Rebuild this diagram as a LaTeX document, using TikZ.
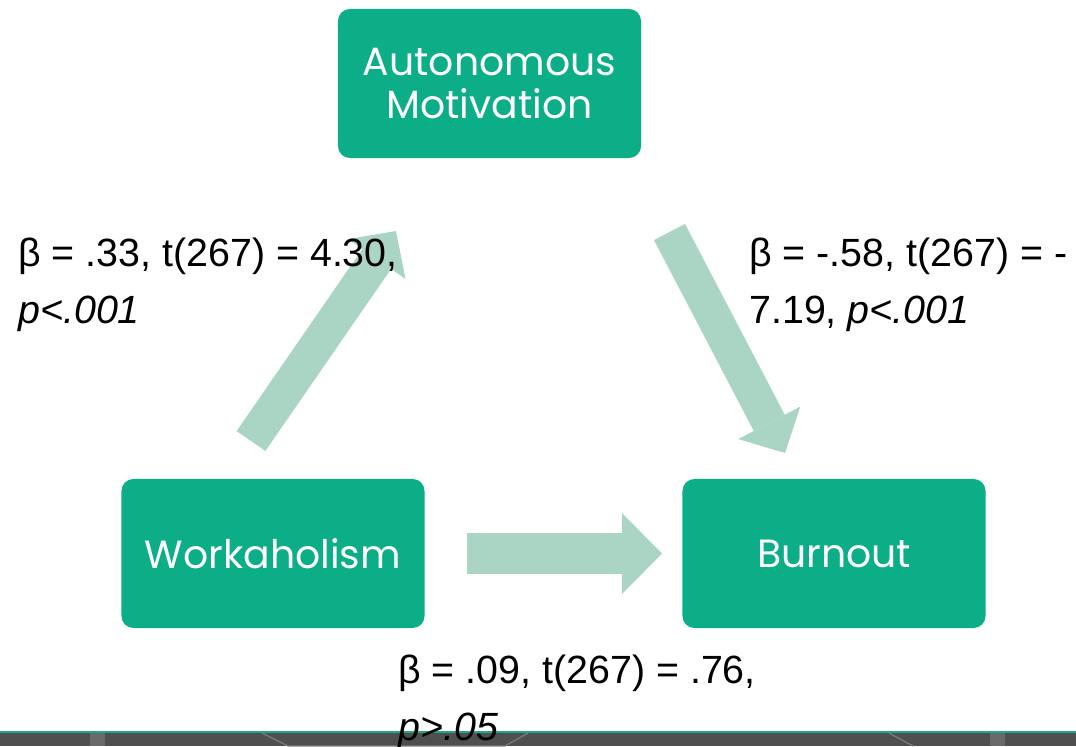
\documentclass[tikz,border=0pt]{standalone}
\usepackage{fontspec}
\setmainfont{Liberation Sans}
\newfontfamily\boxfont{Poppins}
\usetikzlibrary{arrows.meta}

\definecolor{boxgreen}{RGB}{11,174,135}
\definecolor{arrowgreen}{RGB}{170,212,195}
\definecolor{bargrey}{RGB}{79,79,79}
\definecolor{barline}{RGB}{26,170,136}

\begin{document}
\begin{tikzpicture}[x=0.025cm,y=-0.025cm,
		box/.style={fill=boxgreen, rounded corners=0.3cm, minimum width=7.575cm, minimum height=3.725cm, align=center, text=white, font=\boxfont\fontsize{28}{30}\selectfont},
		fat/.style={arrowgreen, line width=0.875cm, -{Triangle[length=0.85cm, width=1.75cm, line width=0pt]}},
		stat/.style={anchor=base west, align=left, inner sep=0pt, font=\fontsize{28}{40}\selectfont}]
		\useasboundingbox (0,0) rectangle (1076,746);
		
		\fill[bargrey] (0,733) rectangle (1076,746);
		\fill[bargrey!85!white] (90,733) rectangle (105,746);
		\fill[bargrey!85!white] (990,733) rectangle (1005,746);
		\draw[bargrey!75!white, line width=0.03cm] (262,733) -- (288,746) -- (505,746) -- (528,733);
		\draw[bargrey!75!white, line width=0.03cm] (889,733) -- (913,746);
		\draw[barline, line width=0.04cm] (0,732) -- (1076,732);
		
		\node[box] (auto) at (489.5,83.5) {Autonomous\\Motivation};
		\node[box] (work) at (273,553.5) {Workaholism};
		\node[box] (burn) at (834,553.5) {Burnout};
		
		\coordinate (wa0) at (251,441);
		\coordinate (wa1) at (396,231);
		\coordinate (ab0) at (669.5,232);
		\coordinate (ab1) at (785,453);
		\coordinate (wb0) at (467,553.5);
		\coordinate (wb1) at (662,553.5);
		\draw[fat] (wa0) -- (wa1);
		\draw[fat] (ab0) -- (ab1);
		\draw[fat, line width=1.025cm, -{Triangle[length=1cm, width=2.025cm, line width=0pt]}] (wb0) -- (wb1);
		
		\node[stat] (lblwa) at (18,323) {β = .33, t(267) = 4.30,\\\textit{p<.001}};
		\node[stat] (lblab) at (749,323) {β = -.58, t(267) = -\\7.19, \textit{p<.001}};
		\node[stat] (lblwb) at (398,740) {β = .09, t(267) = .76,\\\textit{p>.05}};
		
		\end{tikzpicture}
\end{document}
